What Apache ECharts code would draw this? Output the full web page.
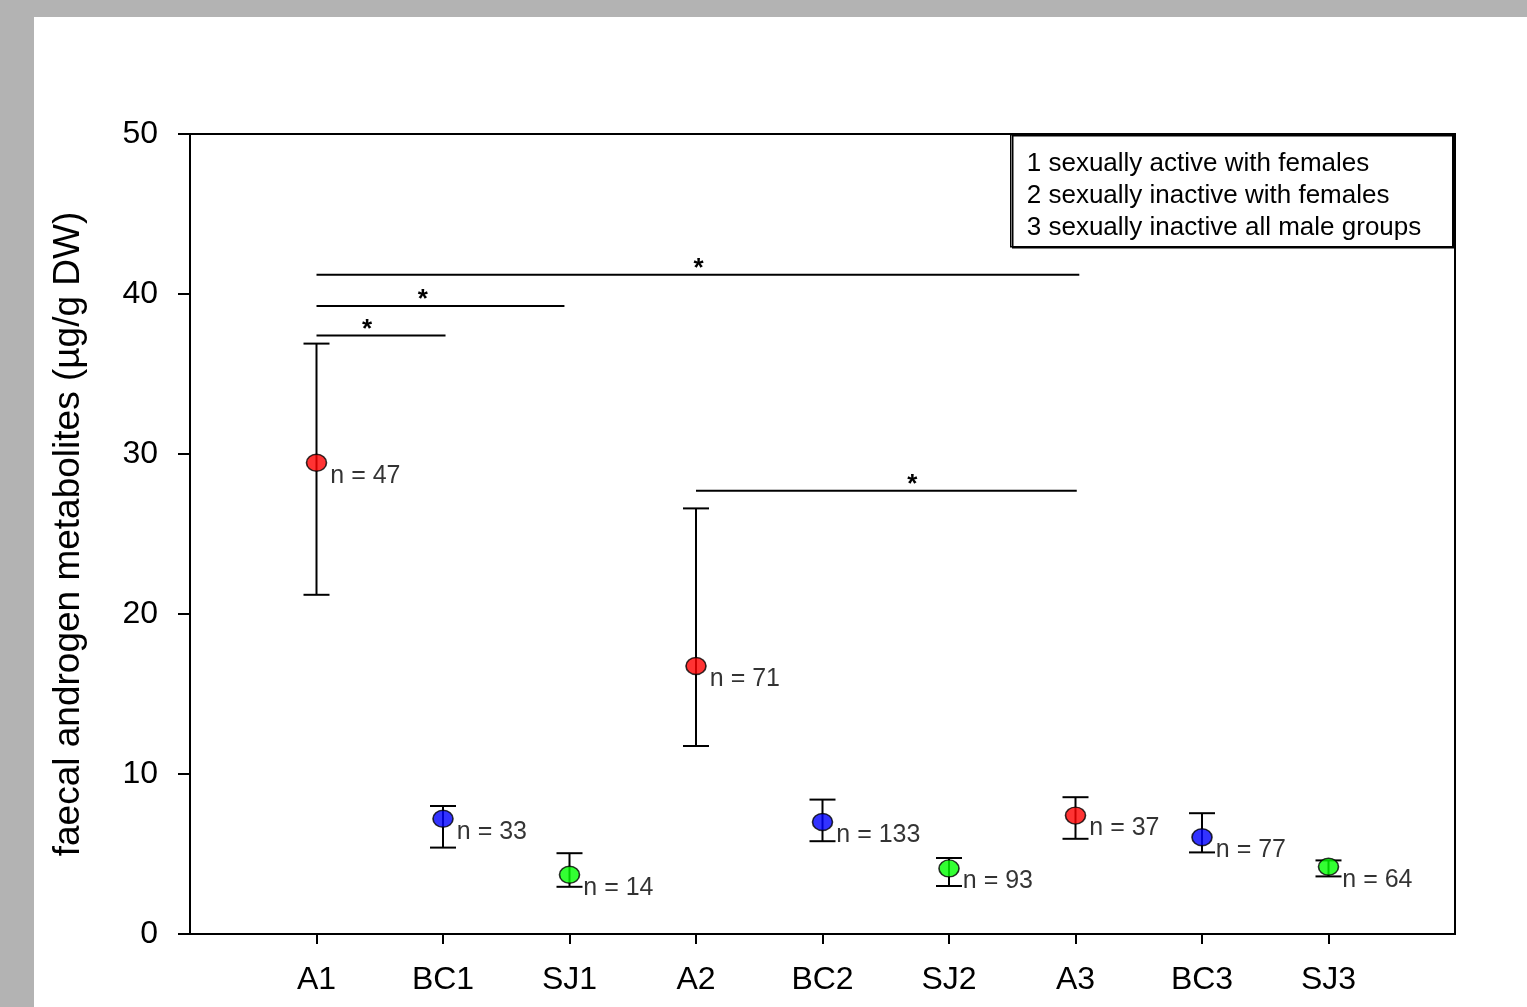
<!DOCTYPE html>
<html>
<head>
<meta charset="utf-8">
<script src="https://cdn.jsdelivr.net/npm/echarts@6/dist/echarts.min.js"></script>
<style>
  html, body { margin: 0; padding: 0; background: #b3b3b3; width: 1527px; height: 1007px; overflow: hidden; }
  #chart { position: absolute; left: 34px; top: 17px; width: 1493px; height: 990px; background: #ffffff; }
</style>
</head>
<body>
<div id="chart"></div>
<script>
var categories = ['A1', 'BC1', 'SJ1', 'A2', 'BC2', 'SJ2', 'A3', 'BC3', 'SJ3'];
var means = [29.45, 7.2, 3.7, 16.75, 7.0, 4.1, 7.4, 6.05, 4.2];
var upper = [36.9, 8.0, 5.05, 26.6, 8.4, 4.75, 8.55, 7.55, 4.6];
var lower = [21.2, 5.4, 2.95, 11.75, 5.8, 3.0, 5.95, 5.1, 3.6];
var sampleSizes = [47, 33, 14, 71, 133, 93, 37, 77, 64];
var yTicks = [0, 10, 20, 30, 40, 50];
// significance brackets: [from position, to position, y value, star position]
var brackets = [
  [1, 7.03, 41.2, 4.02],
  [1, 2.96, 39.25, 1.84],
  [1, 2.02, 37.4, 1.4],
  [4, 7.01, 27.7, 5.71]
];
var legendLines = [
  '1 sexually active with females',
  '2 sexually inactive with females',
  '3 sexually inactive all male groups'
];

var groupColors = ['#ff0000', '#0000ff', '#00ff00'];
var font = 'Liberation Sans, Arial, sans-serif';

var chart = echarts.init(document.getElementById('chart'));

var positions = categories.map(function (c, i) { return i + 1; });

var pointData = categories.map(function (c, i) {
  return {
    value: [i + 1, means[i]],
    itemStyle: { color: groupColors[i % 3] }
  };
});

var errorData = categories.map(function (c, i) {
  return [i + 1, lower[i], upper[i]];
});

option = {
  animation: false,
  grid: {
    left: 156,
    right: 72,
    top: 117,
    bottom: 73,
    show: true,
    borderColor: '#000',
    borderWidth: 2,
    backgroundColor: 'transparent'
  },
  xAxis: {
    type: 'value',
    min: 0,
    max: 10,
    interval: 1,
    axisLine: { lineStyle: { color: '#000', width: 2 } },
    axisTick: {
      customValues: positions,
      length: 10,
      lineStyle: { color: '#000', width: 2 }
    },
    axisLabel: {
      customValues: positions,
      margin: 30,
      fontSize: 32,
      fontFamily: font,
      color: '#000',
      formatter: function (v) { return categories[v - 1] || ''; }
    },
    splitLine: { show: false }
  },
  yAxis: {
    type: 'value',
    min: yTicks[0],
    max: yTicks[yTicks.length - 1],
    interval: 10,
    name: 'faecal androgen metabolites (µg/g DW)',
    nameLocation: 'middle',
    nameGap: 103,
    nameTextStyle: { fontSize: 37, fontFamily: font, color: '#000' },
    axisLine: { lineStyle: { color: '#000', width: 2 } },
    axisTick: { length: 12, lineStyle: { color: '#000', width: 2 } },
    axisLabel: { margin: 32, fontSize: 32, fontFamily: font, color: '#000' },
    splitLine: { show: false }
  },
  series: [
    {
      type: 'custom',
      name: 'error',
      z: 3,
      renderItem: function (params, api) {
        var x = api.value(0);
        var top = api.coord([x, api.value(2)]);
        var bot = api.coord([x, api.value(1)]);
        var half = 13;
        var style = { stroke: '#000', lineWidth: 2 };
        return {
          type: 'group',
          children: [
            { type: 'line', shape: { x1: top[0], y1: top[1], x2: bot[0], y2: bot[1] }, style: style },
            { type: 'line', shape: { x1: top[0] - half, y1: top[1], x2: top[0] + half, y2: top[1] }, style: style },
            { type: 'line', shape: { x1: bot[0] - half, y1: bot[1], x2: bot[0] + half, y2: bot[1] }, style: style }
          ]
        };
      },
      data: errorData
    },
    {
      type: 'scatter',
      name: 'mean',
      z: 5,
      symbol: 'circle',
      symbolSize: [20, 17],
      itemStyle: { borderColor: '#000', borderWidth: 1.5 },
      label: {
        show: true,
        position: 'right',
        distance: 3,
        offset: [0, 13],
        fontSize: 25,
        fontFamily: font,
        color: '#000',
        formatter: function (p) { return 'n = ' + sampleSizes[p.dataIndex]; }
      },
      data: pointData
    },
    {
      type: 'custom',
      name: 'significance',
      z: 4,
      renderItem: function (params, api) {
        var a = api.coord([api.value(0), api.value(2)]);
        var b = api.coord([api.value(1), api.value(2)]);
        var s = api.coord([api.value(3), api.value(2)]);
        return {
          type: 'group',
          children: [
            { type: 'line', shape: { x1: a[0], y1: a[1], x2: b[0], y2: b[1] }, style: { stroke: '#000', lineWidth: 2 } },
            {
              type: 'text',
              x: s[0],
              y: s[1] + 7,
              style: {
                text: '*',
                fontSize: 26,
                fontWeight: 'bold',
                fontFamily: font,
                fill: '#000',
                align: 'center',
                verticalAlign: 'bottom'
              }
            }
          ]
        };
      },
      data: brackets
    }
  ],
  graphic: [
    {
      type: 'group',
      left: 976,
      top: 117,
      children: [
        {
          type: 'rect',
          shape: { x: 0, y: 0, width: 442, height: 112 },
          style: {
            fill: '#fff',
            stroke: '#000',
            lineWidth: 1.5,
            shadowColor: '#000',
            shadowOffsetX: 2,
            shadowOffsetY: 1,
            shadowBlur: 0
          }
        },
        {
          type: 'text',
          x: 16,
          y: 13,
          style: {
            text: legendLines.join('\n'),
            fontSize: 26,
            lineHeight: 32,
            fontFamily: font,
            fill: '#000'
          }
        }
      ]
    }
  ]
};

chart.setOption(option);
</script>
</body>
</html>
